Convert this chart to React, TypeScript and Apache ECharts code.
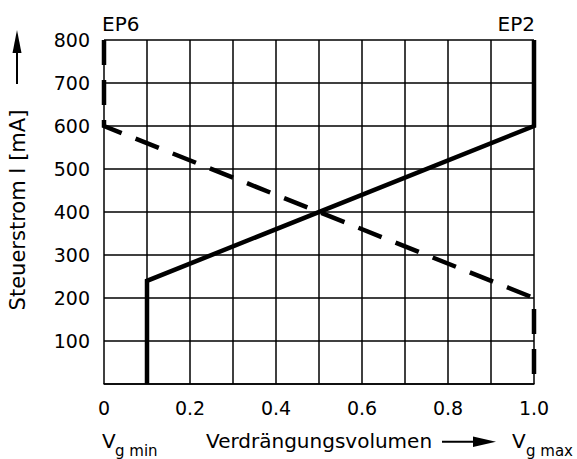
import React, { useEffect, useRef } from "react";
import * as echarts from "echarts";

const FONT = "DejaVu Sans";

// EP2 characteristic (solid)
const ep2X = [0.1, 0.1, 1.0, 1.0];
const ep2Y = [0, 240, 600, 800];
// EP6 characteristic (dashed)
const ep6X = [0, 0, 1.0, 1.0];
const ep6Y = [800, 600, 200, 0];

const xMin = 0;
const xMax = 1;
const xStep = 0.1;
const yMin = 0;
const yMax = 800;
const yStep = 100;

const yName = "Steuerstrom I [mA]";
const xName = "Verdrängungsvolumen";

export default function App() {
  const ref = useRef<HTMLDivElement>(null);
  useEffect(() => {
    if (!ref.current) return;
    const chart = echarts.init(ref.current, undefined, { renderer: "svg" });
    const pairs = (xs: number[], ys: number[]) => xs.map((x, i) => [x, ys[i]]);
    chart.setOption({
      animation: false,
      backgroundColor: "#fff",
      grid: { left: 104, right: 43, top: 40, bottom: 75, containLabel: false },
      xAxis: {
        type: "value",
        min: xMin,
        max: xMax,
        interval: xStep,
        axisLine: { show: true, lineStyle: { color: "#000", width: 1.5 } },
        axisTick: { show: false },
        splitLine: { show: true, lineStyle: { color: "#000", width: 1.5 } },
        axisLabel: {
          margin: 14,
          color: "#000",
          fontSize: 19,
          fontFamily: FONT,
          formatter: (v: number) => {
            const t = Math.round(v * 10);
            if (t % 2 !== 0) return "";
            if (t === 0) return "0";
            return (t / 10).toFixed(1);
          },
        },
      },
      yAxis: {
        type: "value",
        min: yMin,
        max: yMax,
        interval: yStep,
        axisLine: { show: false },
        axisTick: { show: false },
        splitLine: { show: true, lineStyle: { color: "#000", width: 1.5 } },
        axisLabel: {
          margin: 14,
          color: "#000",
          fontSize: 19,
          fontFamily: FONT,
          formatter: (v: number) => (v === 0 ? "" : String(v)),
        },
      },
      series: [
        {
          type: "line",
          data: pairs(ep2X, ep2Y),
          symbol: "none",
          clip: false,
          lineStyle: { color: "#000", width: 4.5, type: "solid", cap: "butt", join: "miter" },
        },
        {
          type: "line",
          data: pairs(ep6X, ep6Y),
          symbol: "none",
          clip: false,
          lineStyle: { color: "#000", width: 4.5, type: [25, 15], cap: "butt", join: "miter" },
        },
      ],
      graphic: [
        { type: "text", x: 102, y: 24, style: { text: "EP6", fontSize: 20, fontFamily: FONT, fill: "#000", align: "left", verticalAlign: "middle" } },
        { type: "text", x: 535, y: 24, style: { text: "EP2", fontSize: 20, fontFamily: FONT, fill: "#000", align: "right", verticalAlign: "middle" } },
        { type: "text", x: 17.5, y: 210, rotation: Math.PI / 2, style: { text: yName, fontSize: 21, fontFamily: FONT, fill: "#000", align: "center", verticalAlign: "middle" } },
        { type: "line", shape: { x1: 17, y1: 52, x2: 17, y2: 84 }, style: { stroke: "#000", lineWidth: 2 } },
        { type: "polygon", shape: { points: [[17, 30], [12.5, 53], [21.5, 53]] }, style: { fill: "#000" } },
        { type: "text", x: 102, y: 441, style: { text: "V", fontSize: 20, fontFamily: FONT, fill: "#000", align: "left", verticalAlign: "middle" } },
        { type: "text", x: 115, y: 450.5, style: { text: "g min", fontSize: 15, fontFamily: FONT, fill: "#000", align: "left", verticalAlign: "middle" } },
        { type: "text", x: 206, y: 441, style: { text: xName, fontSize: 20, fontFamily: FONT, fill: "#000", align: "left", verticalAlign: "middle" } },
        { type: "line", shape: { x1: 442, y1: 441.7, x2: 475, y2: 441.7 }, style: { stroke: "#000", lineWidth: 2 } },
        { type: "polygon", shape: { points: [[496, 441.7], [473, 436.5], [473, 447]] }, style: { fill: "#000" } },
        { type: "text", x: 512, y: 441, style: { text: "V", fontSize: 20, fontFamily: FONT, fill: "#000", align: "left", verticalAlign: "middle" } },
        { type: "text", x: 526, y: 450.5, style: { text: "g max", fontSize: 15, fontFamily: FONT, fill: "#000", align: "left", verticalAlign: "middle" } },
      ],
    });
    return () => chart.dispose();
  }, []);
  return (
    <div
      ref={ref}
      style={{ position: "fixed", left: 0, top: 0, width: 577, height: 459 }}
    />
  );
}
